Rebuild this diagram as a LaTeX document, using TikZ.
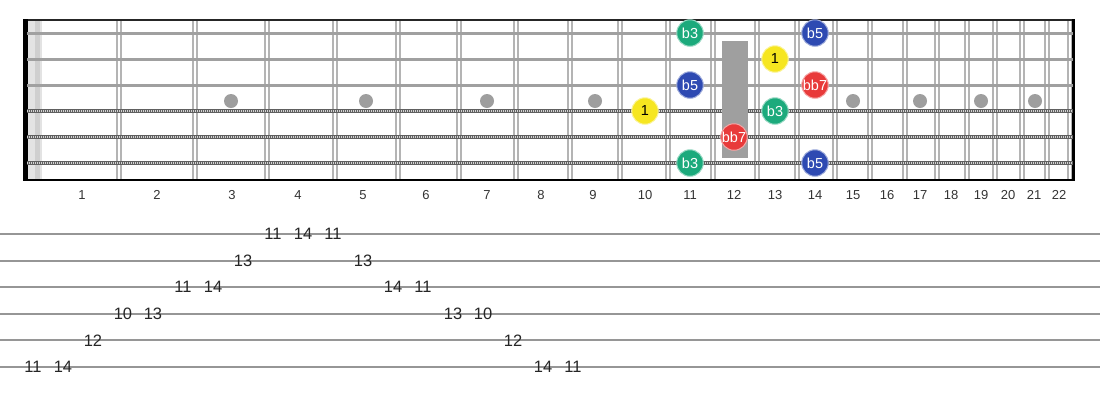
\documentclass[tikz,border=0pt]{standalone}
\usepackage{fontspec}
\setmainfont{Liberation Sans}
\definecolor{noteGreen}{RGB}{28,170,124}
\definecolor{noteBlue}{RGB}{46,74,178}
\definecolor{noteRed}{RGB}{232,58,58}
\definecolor{noteYellow}{RGB}{246,230,32}
\definecolor{fretGray}{RGB}{180,180,180}
\definecolor{strGray}{RGB}{160,160,160}
\definecolor{dotGray}{RGB}{158,158,158}
\definecolor{tabGray}{RGB}{150,150,150}
\begin{document}
\begin{tikzpicture}[x=1pt, y=-1pt]
    \tikzset{
      fretwire/.style={draw=fretGray, line width=1.6pt},
      plainstring/.style={draw=strGray, line width=3pt},
      woundstring/.style={draw=gray!75!black, line width=4.4pt},
      woundwrap/.style={draw=white!65!gray, line width=2pt, dash pattern=on 1pt off 1pt},
      inlay/.style={circle, fill=dotGray, minimum size=14pt, inner sep=0pt},
      note/.style={circle, fill=#1, draw=#1!45!white, line width=1pt, minimum size=26.5pt, inner sep=0pt, text=white, font=\fontsize{14.5}{14}\selectfont},
      rootnote/.style={note=noteYellow, text=black},
      fretnum/.style={font=\fontsize{13}{13}\selectfont, text=black!80},
      tabnum/.style={font=\fontsize{16.5}{16}\selectfont, text=black!85},
      tabline/.style={draw=tabGray, line width=2pt}
    }
    \useasboundingbox (0,0) rectangle (1100,400);
    \fill[gray!22] (27,20) rectangle (42,180);
    \fill[gray!38] (35,20) rectangle (40,180);
    \foreach \f in {119,195,267,335,398,459,516,570,620,668,713,757,797,835,870,905,937,967,995,1022,1047,1070}
      \draw[fretwire] (\f-1.8,20) -- (\f-1.8,180) (\f+1.8,20) -- (\f+1.8,180);
    \draw[black!85, line width=2pt] (23,19.5) -- (1074,19.5);
    \draw[black, line width=2.2pt] (23,180) -- (1074,180);
    \draw[black, line width=2.2pt] (1073.5,19) -- (1073.5,181);
    \fill[black] (23,19) rectangle (27.5,181);
    \foreach \x [count=\i] in {231,366,487,595,853,920,981,1035}
      \node[inlay] (dot\i) at (\x,101) {};
    \foreach \y in {33,59,85}
      \draw[plainstring] (27,\y) -- (1073,\y);
    \foreach \y in {111,137,163} {
      \draw[woundstring] (27,\y) -- (1073,\y);
      \draw[woundwrap] (27,\y) -- (1073,\y);
    }
    \fill[gray!75] (722,41) rectangle (748,158);
    \foreach \x/\y/\c/\t [count=\i] in {690/33/noteGreen/b3, 815/33/noteBlue/b5, 690/85/noteBlue/b5, 815/85/noteRed/bb7, 775/111/noteGreen/b3, 734/137/noteRed/bb7, 690/163/noteGreen/b3, 815/163/noteBlue/b5}
      \node[note=\c] (n\i) at (\x,\y) {\t};
    \node[rootnote] (root1) at (775,59) {1};
    \node[rootnote] (root2) at (645,111) {1};
    \foreach \n/\x in {1/82,2/157,3/232,4/298,5/363,6/426,7/487,8/541,9/593,10/645,11/690,12/734,13/775,14/815,15/853,16/887,17/920,18/951,19/981,20/1008,21/1034,22/1059}
      \node[fretnum] (fn\n) at (\x,195) {\n};
    \foreach \s in {1,...,6}
      \draw[tabline] (0,{234+26.6*(\s-1)}) -- (1100,{234+26.6*(\s-1)});
    \foreach \k/\s/\v in {0/6/11,1/6/14,2/5/12,3/4/10,4/4/13,5/3/11,6/3/14,7/2/13,8/1/11,9/1/14,10/1/11,11/2/13,12/3/14,13/3/11,14/4/13,15/4/10,16/5/12,17/6/14,18/6/11}
      \node[tabnum] (tab\k) at ({33+30*\k},{234+26.6*(\s-1)}) {\v};
\end{tikzpicture}
\end{document}
